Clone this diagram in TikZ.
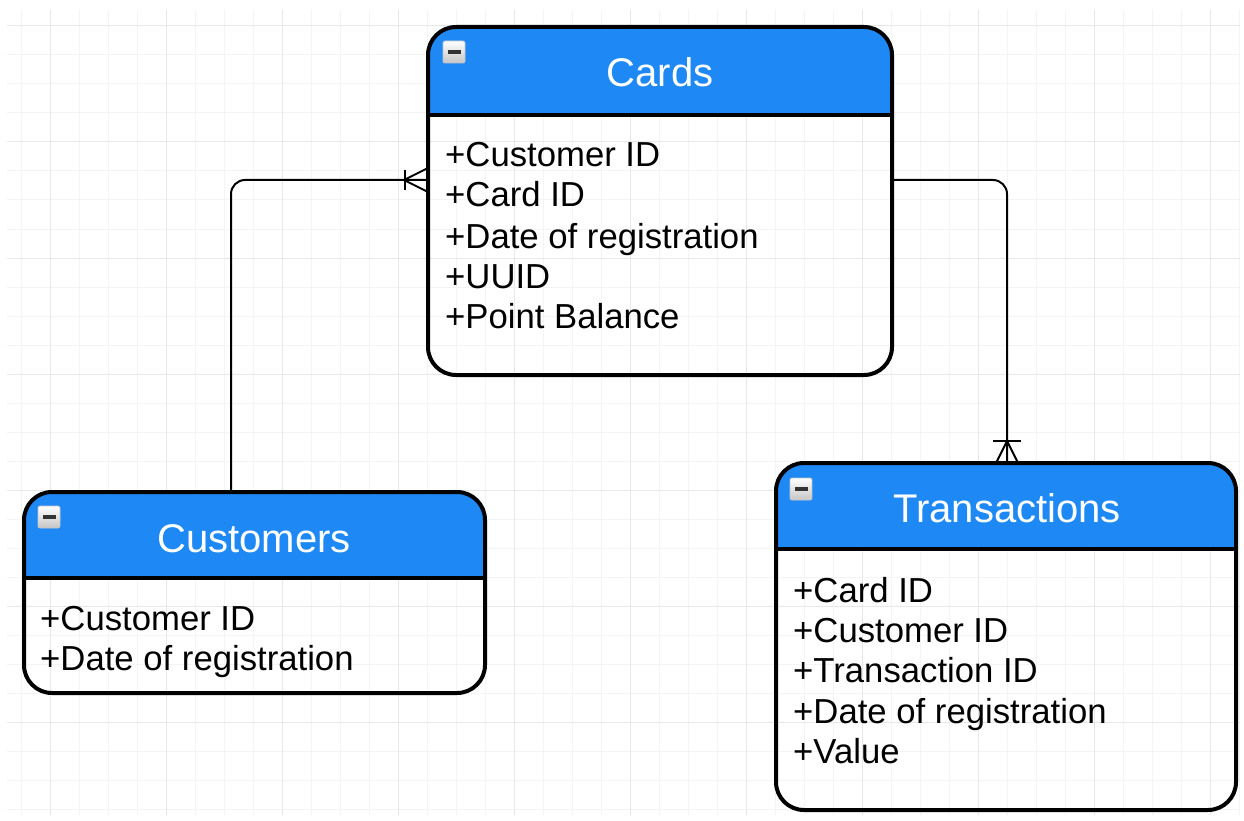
\documentclass[tikz,border=0pt]{standalone}
\usepackage{fontspec}
\setmainfont{Liberation Sans}
\usetikzlibrary{calc}
\definecolor{hdrblue}{RGB}{30,137,245}
\definecolor{gridminor}{RGB}{244,244,244}
\definecolor{gridmajor}{RGB}{231,231,231}
\begin{document}
\begin{tikzpicture}[x=1pt,y=-1pt,
  entity/.style={draw=black, line width=4pt, rounded corners=28pt, inner sep=0pt, outer sep=0pt, anchor=north west,
    path picture={\fill[hdrblue, sharp corners] (path picture bounding box.north west) rectangle ($(path picture bounding box.north east)+(0,#1)$);}},
  sepline/.style={line width=4pt},
  icon/.style={draw=gray!45, line width=0.8pt, rounded corners=2pt, top color=white, bottom color=gray!45, minimum size=22pt, inner sep=0pt,
    path picture={\fill[black!80, sharp corners] ($(path picture bounding box.center)+(-6.5,-2)$) rectangle ($(path picture bounding box.center)+(6.5,2)$);}},
  title/.style={text=white, font=\fontsize{40}{46}\selectfont, anchor=base, inner sep=0pt},
  attr/.style={text=black, font=\fontsize{34.7}{40}\selectfont, anchor=base west, inner sep=0pt},
  conn/.style={draw=black, line width=2pt, rounded corners=14pt},
  crow/.style={draw=black, line width=2pt},
  gridline/.style={draw=gridminor, line width=1pt},
  gridline2/.style={draw=gridmajor, line width=1pt}]
\useasboundingbox (0,0) rectangle (1244,821);
\fill[white] (0,0) rectangle (1244,821);
% grid
\foreach \x in {21,50,...,1240} \draw[gridline] (\x,10) -- (\x,815);
\foreach \y in {26,55,...,815} \draw[gridline] (7,\y) -- (1240,\y);
\foreach \x in {50,166,...,1240} \draw[gridline2] (\x,10) -- (\x,815);
\foreach \y in {26,142,...,815} \draw[gridline2] (7,\y) -- (1240,\y);

% Cards
\node[entity=88, minimum width=464pt, minimum height=348pt] (cards) at (428,27) {};
\draw[sepline] ($(cards.north west)+(0,88)$) -- ($(cards.north east)+(0,88)$);
\node[icon] (cards-icon) at (454,52) {};
\node[title] (cards-title) at (660,87) {Cards};
\node[attr] (cards-a1) at (445,167) {+Customer ID};
\node[attr] (cards-a2) at (445,207) {+Card ID};
\node[attr] (cards-a3) at (445,248) {+Date of registration};
\node[attr] (cards-a4) at (445,288) {+UUID};
\node[attr] (cards-a5) at (445,328) {+Point Balance};

% Customers
\node[entity=86, minimum width=461pt, minimum height=201pt] (cust) at (24,492) {};
\draw[sepline] ($(cust.north west)+(0,86)$) -- ($(cust.north east)+(0,86)$);
\node[icon] (cust-icon) at (49,517) {};
\node[title] (cust-title) at (254,552) {Customers};
\node[attr] (cust-a1) at (40,630) {+Customer ID};
\node[attr] (cust-a2) at (40,670) {+Date of registration};

% Transactions
\node[entity=86, minimum width=460pt, minimum height=347pt] (trans) at (776,463) {};
\draw[sepline] ($(trans.north west)+(0,86)$) -- ($(trans.north east)+(0,86)$);
\node[icon] (trans-icon) at (801,489) {};
\node[title] (trans-title) at (1007,522) {Transactions};
\node[attr] (trans-a1) at (793,602) {+Card ID};
\node[attr] (trans-a2) at (793,642) {+Customer ID};
\node[attr] (trans-a3) at (793,682) {+Transaction ID};
\node[attr] (trans-a4) at (793,723) {+Date of registration};
\node[attr] (trans-a5) at (793,763) {+Value};

% connectors
\coordinate (k1) at (231,180);
\coordinate (k2) at (1007,180);
\coordinate (e1) at (cards.west |- k1);
\coordinate (e2) at (trans.north -| k2);
\draw[conn] (k1 |- cust.north) -- (k1) -- (e1);
\draw[conn] (cards.east |- k2) -- (k2) -- (e2);
% crow's feet
\draw[crow] ($(e1)+(-24,0)$) -- ($(e1)+(0,-12)$);
\draw[crow] ($(e1)+(-24,0)$) -- ($(e1)+(0,12)$);
\draw[crow] ($(e1)+(-23,-10)$) -- ($(e1)+(-23,10)$);
\draw[crow] ($(e2)+(0,-22)$) -- ($(e2)+(-11,0)$);
\draw[crow] ($(e2)+(0,-22)$) -- ($(e2)+(11,0)$);
\draw[crow] ($(e2)+(-14,-22)$) -- ($(e2)+(14,-22)$);
\end{tikzpicture}
\end{document}
